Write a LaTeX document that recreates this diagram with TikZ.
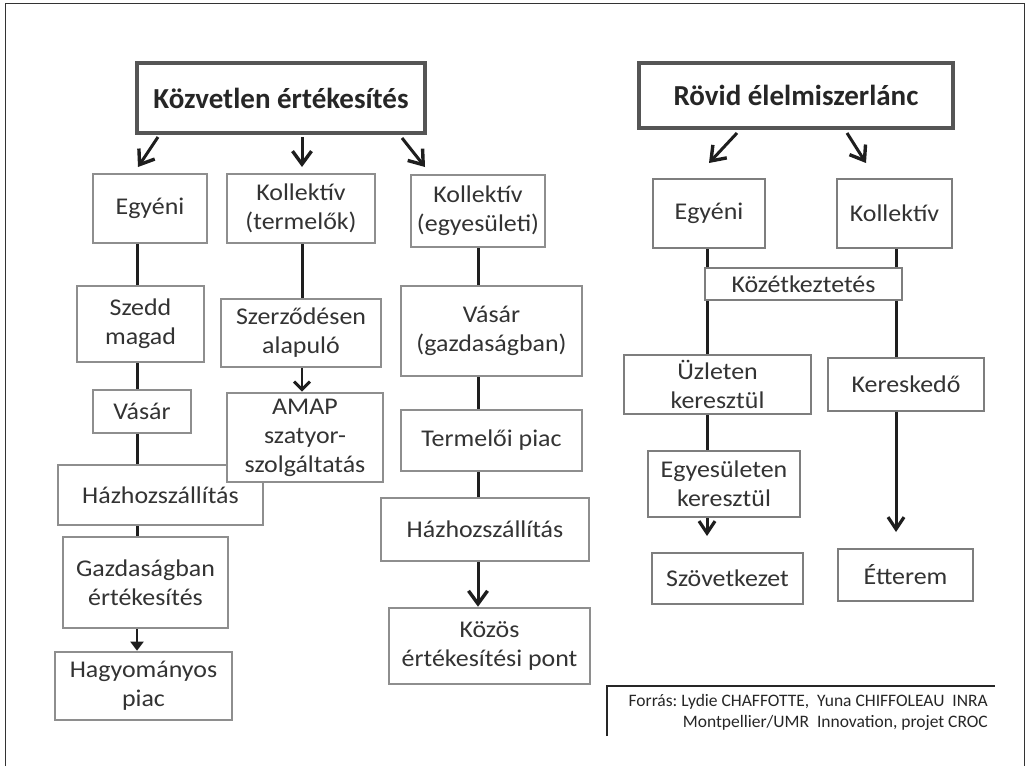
\documentclass[tikz,border=0pt]{standalone}
\usepackage{fontspec}
\setmainfont{Carlito}
\newfontfamily\bodyfont{Carlito}[FakeStretch=1.08]
\usetikzlibrary{arrows.meta,backgrounds}
\definecolor{boxgray}{HTML}{8E8E8E}
\definecolor{rgray}{HTML}{7E7E7E}
\definecolor{titlegray}{HTML}{555555}
\definecolor{txtgray}{HTML}{333333}
\definecolor{titletext}{HTML}{262626}
\definecolor{linecol}{HTML}{1E1E1E}
\begin{document}
\begin{tikzpicture}[x=1pt,y=-1pt,
  box/.style={draw=boxgray,line width=2.6pt,fill=white,inner sep=0pt,align=center,
    font=\bodyfont\fontsize{24}{29}\selectfont,text=txtgray},
  rbox/.style={box,draw=rgray,line width=2pt},
  titlebox/.style={draw=titlegray,line width=4.5pt,fill=white,inner sep=0pt,
    font=\bfseries\fontsize{29}{34}\selectfont,text=titletext},
  conn/.style={draw=linecol,line width=3pt},
  arr/.style={conn,-{Straight Barb[length=13pt,width=19pt,line width=3.4pt]}},
  marr/.style={conn,-{Straight Barb[length=12pt,width=16pt,line width=3.2pt]}},
  sarr/.style={conn,-{Straight Barb[length=8pt,width=16pt,line width=3pt]}},
]
\useasboundingbox (0,0) rectangle (1027,766);
\draw[line width=1.5pt,draw=black!80] (5.5,766) -- (5.5,3.5) -- (1024.5,3.5) -- (1024.5,766);

% titles
\node[titlebox,minimum width=288pt,minimum height=70pt] (t1) at (281,98) {Közvetlen értékesítés};
\node[titlebox,minimum width=314pt,minimum height=65pt] (t2) at (796,95.5) {Rövid élelmiszerlánc};

% level 2
\node[box,minimum width=114pt,minimum height=69pt] (e1) at (150,208.5) {Egyéni};
\node[box,minimum width=148pt,minimum height=69pt] (k1) at (301,208.5) {Kollektív\\(termelők)};
\node[box,minimum width=134pt,minimum height=72pt] (k2) at (478,211) {Kollektív\\(egyesületi)};
\node[rbox,minimum width=112pt,minimum height=69pt] (e2) at (709,213.5) {Egyéni};
\node[rbox,minimum width=115pt,minimum height=69pt] (k3) at (894.5,213.5) {Kollektív};

% left column
\node[box,minimum width=127pt,minimum height=76pt] (szedd) at (140.5,324) {Szedd\\magad};
\node[box,minimum width=98pt,minimum height=43pt] (vasar1) at (142,411.5) {Vásár};
\node[box,minimum width=205pt,minimum height=60pt] (hazhoz1) at (160.5,495) {Házhozszállítás};
\node[box,minimum width=165pt,minimum height=91pt] (gazd) at (145.5,582.5) {Gazdaságban\\értékesítés};
\node[box,minimum width=177pt,minimum height=68pt] (hagy) at (143.5,686) {Hagyományos\\piac};

% second column
\node[box,minimum width=160pt,minimum height=68pt] (szerz) at (301,333) {Szerződésen\\alapuló};
\node[box,minimum width=156pt,minimum height=89pt] (amap) at (305,437.5) {AMAP\\szatyor-\\szolgáltatás};

% third column
\node[box,minimum width=181pt,minimum height=90pt] (vasarg) at (491.5,331) {Vásár\\(gazdaságban)};
\node[box,minimum width=181pt,minimum height=61pt] (termeloi) at (491.5,440.5) {Termelői piac};
\node[box,minimum width=208pt,minimum height=63pt] (hazhoz2) at (485,529.5) {Házhozszállítás};
\node[box,minimum width=201pt,minimum height=76pt] (kozos) at (489.5,646) {Közös\\értékesítési pont};

% right part
\node[rbox,minimum width=197pt,minimum height=32pt] (kozet) at (803.5,284) {Közétkeztetés};
\node[rbox,minimum width=187pt,minimum height=59pt] (uzlet) at (717.5,384.5) {Üzleten\\keresztül};
\node[rbox,minimum width=156pt,minimum height=53pt] (keresk) at (906,384.5) {Kereskedő};
\node[rbox,minimum width=152pt,minimum height=66pt] (egyes) at (724,484) {Egyesületen\\keresztül};
\node[rbox,minimum width=151pt,minimum height=51pt] (szov) at (727.5,578.5) {Szövetkezet};
\node[rbox,minimum width=135pt,minimum height=52pt] (etterem) at (905.5,575) {Étterem};

% x positions of the connectors
\coordinate (xL) at (137,0);
\coordinate (xM) at (302,0);
\coordinate (xR) at (478,0);
\coordinate (xE) at (707,0);
\coordinate (xK) at (896,0);

% title arrows
\coordinate (a1s) at (158,137); \coordinate (a1e) at (138,167);
\coordinate (a2s) at (302,137); \coordinate (a2e) at (302,167);
\coordinate (a3s) at (402,138); \coordinate (a3e) at (425,167);
\coordinate (b1s) at (737,133); \coordinate (b1e) at (709,163);
\coordinate (b2s) at (847,133); \coordinate (b2e) at (866,163);

\begin{scope}[on background layer]
\draw[conn] (xL |- e1.south) -- (xL |- szedd.north);
\draw[conn] (xL |- szedd.south) -- (xL |- vasar1.north);
\draw[conn] (xL |- vasar1.south) -- (xL |- hazhoz1.north);
\draw[conn] (xL |- hazhoz1.south) -- (xL |- gazd.north);
\draw[conn] (xM |- k1.south) -- (xM |- szerz.north);
\draw[conn] (xR |- k2.south) -- (xR |- vasarg.north);
\draw[conn] (xR |- vasarg.south) -- (xR |- termeloi.north);
\draw[conn] (xR |- termeloi.south) -- (xR |- hazhoz2.north);
\draw[conn] (xE |- e2.south) -- (xE |- uzlet.north);
\draw[conn] (xK |- k3.south) -- (xK |- keresk.north);
\draw[conn] (xE |- uzlet.south) -- (xE |- egyes.north);
\end{scope}

\draw[conn,line width=2pt,-{Triangle[length=9pt,width=13pt]}] (xL |- gazd.south) -- (xL |- hagy.north);
\draw[sarr,line width=2.6pt] (xM |- szerz.south) -- (xM |- amap.north);
\draw[arr] (xR |- hazhoz2.south) -- (xR |- kozos.north);
\draw[marr,shorten >=16pt] (xE |- egyes.south) -- (xE |- szov.north);
\draw[marr,shorten >=16pt] (xK |- keresk.south) -- (xK |- etterem.north);

\draw[arr] (a1s) -- (a1e);
\draw[arr] (a2s) -- (a2e);
\draw[arr] (a3s) -- (a3e);
\draw[arr] (b1s) -- (b1e);
\draw[arr] (b2s) -- (b2e);

% source
\draw[line width=1.8pt,draw=black!85] (607,736) -- (607,686) -- (995,686);
\node[anchor=north east,align=right,inner sep=0pt,text=black!85,
  font=\fontsize{17.5}{21}\selectfont] (src) at (988,694)
  {Forrás:\ Lydie CHAFFOTTE,\ \ Yuna CHIFFOLEAU\ \ INRA\\Montpellier/UMR\ \ Innovation, projet CROC};
\end{tikzpicture}
\end{document}
